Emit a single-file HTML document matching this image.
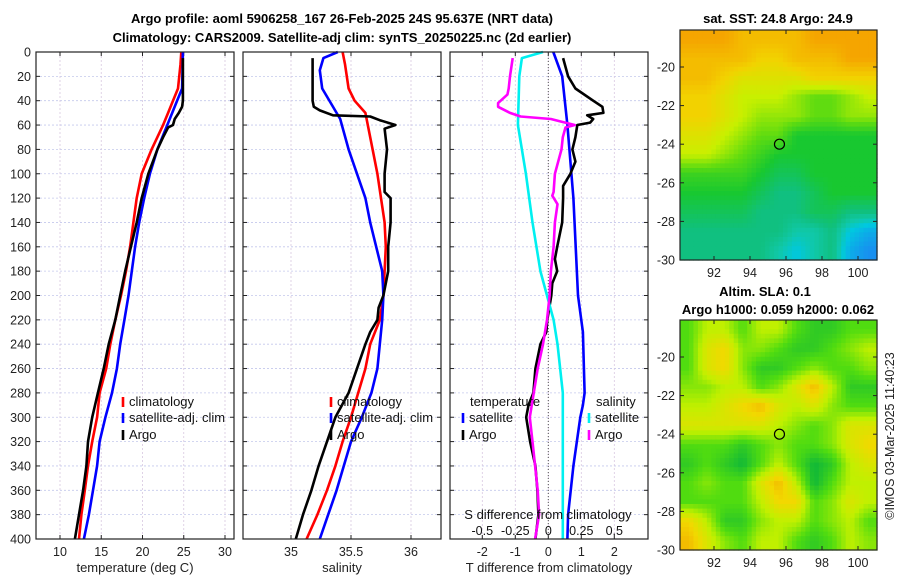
<!DOCTYPE html>
<html><head><meta charset="utf-8"><style>
html,body{margin:0;padding:0;background:#fff;}
svg{display:block;font-family:"Liberation Sans","DejaVu Sans",sans-serif;}
</style></head><body>
<svg id="fig" width="900" height="580" viewBox="0 0 900 580" xmlns="http://www.w3.org/2000/svg">
<g font-weight="bold" font-size="13" text-anchor="middle" fill="#000">
<text x="342" y="23">Argo profile: aoml 5906258_167 26-Feb-2025 24S 95.637E (NRT data)</text>
<text x="342" y="42">Climatology: CARS2009. Satellite-adj clim: synTS_20250225.nc (2d earlier)</text>
</g>
<g id="root"></g>
</svg>
<script>
// ---------- data ----------
const depthTicks = [0,20,40,60,80,100,120,140,160,180,200,220,240,260,280,300,320,340,360,380,400];
const tempTicks = [10,15,20,25,30];
const salTicks = [35,35.5,36];
const tdiffTicks = [-2,-1,0,1,2];
const sdiffTicks = [-0.5,-0.25,0,0.25,0.5];
const sdiffTickLabels = ["-0.5","-0.25","0","0.25","0.5"];

const tClimDepth = [0,10,30,40,50,60,80,100,120,140,160,180,200,220,240,260,280,300,320,340,360,380,400];
const tClimVal   = [24.7,24.6,24.3,23.7,23.1,22.5,21.1,19.9,19.3,18.9,18.5,18.0,17.4,16.7,16.1,15.6,14.8,14.5,13.9,13.4,13.0,12.6,12.3];
const tSatDepth = [0,30,40,60,80,100,120,140,160,180,200,220,240,260,280,300,320,340,360,380,400];
const tSatVal   = [24.9,24.8,24.2,23.0,21.8,20.9,20.2,19.6,19.1,18.7,18.3,17.8,17.3,16.9,16.3,15.5,14.8,14.5,14.0,13.5,12.9];
const tArgoDepth = [5,40,45,50,55,60,62,70,80,100,120,140,160,180,200,220,240,260,280,300,320,340,360,380,400];
const tArgoVal   = [24.9,24.9,24.8,24.4,23.9,23.7,23.1,22.5,21.8,20.7,19.9,19.3,18.6,17.9,17.3,16.7,15.9,15.3,14.6,13.9,13.4,13.2,12.8,12.3,11.8];

const sClimDepth = [0,10,30,40,50,80,100,140,160,200,220,240,260,280,300,320,340,360,380,400];
const sClimVal   = [35.43,35.45,35.48,35.53,35.62,35.68,35.72,35.78,35.79,35.77,35.74,35.66,35.62,35.56,35.5,35.43,35.37,35.3,35.22,35.13];
const sSatDepth = [0,5,15,30,55,80,100,120,140,160,180,200,220,240,260,280,300,320,340,360,380,400];
const sSatVal   = [35.39,35.27,35.24,35.26,35.41,35.48,35.55,35.62,35.66,35.71,35.76,35.77,35.76,35.74,35.72,35.67,35.59,35.5,35.44,35.38,35.31,35.24];
const sArgoDepth = [5,40,45,48,52,53,56,60,63,80,100,115,120,140,160,180,200,210,220,230,240,260,280,300,320,340,360,380,400];
const sArgoVal   = [35.18,35.18,35.19,35.24,35.35,35.66,35.74,35.87,35.78,35.8,35.78,35.78,35.83,35.83,35.81,35.81,35.77,35.73,35.72,35.66,35.62,35.55,35.48,35.37,35.3,35.23,35.17,35.1,35.04];

const dTSatDepth = [0,20,60,120,200,230,280,290,300,340,380,400];
const dTSatVal   = [0.15,0.42,0.58,0.76,0.9,1.05,1.1,1.05,0.97,0.76,0.6,0.58];
const dTArgoDepth = [5,20,30,40,45,50,52,55,58,60,70,80,90,100,110,120,140,160,170,180,190,200,220,230,240,260,280,290,300,320,340,360,380,400];
const dTArgoVal   = [0.45,0.6,0.82,1.36,1.64,1.67,1.18,1.36,1.27,0.88,0.82,0.73,0.82,0.67,0.45,0.45,0.42,0.27,0.2,0.27,0.12,0.09,-0.03,-0.06,-0.24,-0.39,-0.45,-0.6,-0.67,-0.55,-0.39,-0.33,-0.3,-0.39];
const dSSatDepth = [0,5,20,60,80,100,140,180,200,220,240,280,400];
const dSSatVal   = [-0.04,-0.2,-0.22,-0.23,-0.2,-0.17,-0.12,-0.06,-0.01,0.04,0.07,0.11,0.11];
const dSArgoDepth = [5,20,30,35,42,45,50,53,55,57,60,62,70,80,100,115,118,125,140,160,180,200,220,240,260,300,320,340,360,380,400];
const dSArgoVal   = [-0.27,-0.29,-0.3,-0.31,-0.38,-0.38,-0.29,-0.21,0.02,0.09,0.2,0.13,0.11,0.1,0.05,0.04,0.03,0.07,0.05,0.04,0.02,0.01,-0.01,-0.04,-0.08,-0.14,-0.12,-0.1,-0.08,-0.07,-0.1];

const sstGrid = [
[0,0,0,0.5,0.5,0.5,0.5,0,0,0,0],
[0.5,0.5,0.5,0.5,1,1,0.5,0.5,0.5,0,0],
[0.5,0.5,1,1.5,1.5,1.5,1.5,1,1,1,1],
[1,1,1.5,2,2,2,2.5,3,3,2.5,2],
[1,1,1.5,2,2.5,2.5,2.5,3,3,2.5,2.5],
[1.5,1.5,2,2.5,3,3,4,4,4,4,4],
[2,2,2.5,3,3.5,4,4,4,4,4,4],
[3.5,3.5,3.5,3.5,4,4.5,4.5,4,4,4,4],
[4,4,4,4,4.5,5,5,4.5,4,4,4],
[4.5,4.5,4.5,4.5,5,5,5,4.5,4.5,5,5],
[5,5,5,5,5,5,5.5,5.5,5,6,6.5],
[5,5,5,5,5,5.5,6,5.5,5,6.5,7]];
const slaGrid = [
[1,2,2,1,2,2,1,0.5,0.5,1,1],
[1,2.5,3,1.5,1.5,1,0.5,0.5,1,1.5,2],
[1,2.5,3,1.5,0.5,0.5,1,1.5,1,1,1.5],
[1.5,1.5,2,2,1,1.5,2.5,3.5,2,0.5,0.5],
[2,2,2.5,3,3.5,2.5,2,2.5,1.5,1,1],
[2.5,2.5,2.5,2.5,2.5,2,1.5,1,1.5,2.5,2.5],
[1,1,1,0.5,1,1.5,1,1,1.5,2.5,3],
[0.5,1,0.5,0,1,2,1,0,0.5,2,2.5],
[1,1.5,1,1,2.5,3.5,2,0,1,2,2],
[1,1,1,1,2,3,3,1,1.5,2.5,2],
[3,2,0.5,0.5,1.5,2,2,1,1.5,2,1],
[3.5,2.5,1.5,1,2,2,1,0.5,1,2,1.5]];
const lonTicks = [92,94,96,98,100];
const latTicks = [-20,-22,-24,-26,-28,-30];
const argoLon = 95.637, argoLat = -24;

// ---------- helpers ----------
const NS = "http://www.w3.org/2000/svg";
const root = document.getElementById('root');
function mk(tag, attrs, parent, text) {
  const e = document.createElementNS(NS, tag);
  for (const k in attrs) e.setAttribute(k, attrs[k]);
  if (text !== undefined) e.textContent = text;
  (parent || root).appendChild(e);
  return e;
}
const PT = 52, PB = 539;
const yD = d => PT + (d / 400) * (PB - PT);
function lin(d0, d1, r0, r1) { return v => r0 + (v - d0) / (d1 - d0) * (r1 - r0); }

function panel(name, x0, x1, xTicks, xScale, xLabels, xTitle, leftLabels) {
  const g = mk('g', {});
  
  
  depthTicks.forEach(d => mk('line', {x1:x0,x2:x1,y1:yD(d),y2:yD(d),stroke:'#c4c8ec','stroke-width':0.8,'stroke-dasharray':'2,2'}, g));
  xTicks.forEach(v => mk('line', {x1:xScale(v),x2:xScale(v),y1:PT,y2:PB,stroke:'#d8c8e0','stroke-width':0.8,'stroke-dasharray':'2,2'}, g));
  depthTicks.forEach(d => {
    mk('line', {x1:x0,x2:x0+4,y1:yD(d),y2:yD(d),stroke:'#222'}, g);
    mk('line', {x1:x1,x2:x1-4,y1:yD(d),y2:yD(d),stroke:'#222'}, g);
    if (leftLabels) mk('text', {x:x0-5,y:yD(d)+4.5,'text-anchor':'end','font-size':12.5,fill:'#222'}, g, String(d));
  });
  xTicks.forEach((v,i) => {
    mk('line', {x1:xScale(v),x2:xScale(v),y1:PB,y2:PB-4,stroke:'#222'}, g);
    mk('line', {x1:xScale(v),x2:xScale(v),y1:PT,y2:PT+4,stroke:'#222'}, g);
    mk('text', {x:xScale(v),y:PB+17,'text-anchor':'middle','font-size':12.5,fill:'#222'}, g, xLabels[i]);
  });
  mk('text', {x:(x0+x1)/2,y:PB+33,'text-anchor':'middle','font-size':13,fill:'#222'}, g, xTitle);
  return g;
}
function series(name, g, depths, vals, xs, color) {
  const pts = depths.map((d,i) => xs(vals[i]).toFixed(1) + ',' + yD(d).toFixed(1)).join(' ');
  const p = mk('polyline', {points:pts,fill:'none',stroke:color,'stroke-width':2.6,'stroke-linejoin':'round'}, g);
  
  
}
function frame(g, x0, x1) { mk('rect', {x:x0,y:PT,width:x1-x0,height:PB-PT,fill:'none',stroke:'#222','stroke-width':1.2}, g); }
function legend(g, x, y, color, text, name) {
  const e = mk('g', {}, g);
  
  
  if (color) mk('line', {x1:x,x2:x,y1:y-9,y2:y+1,stroke:color,'stroke-width':2.6}, e);
  mk('text', {x:x+6,y:y,'font-size':13,fill:'#111'}, e, text);
}

// ---------- panel 1: temperature ----------
const xT = lin(10, 30, 60, 225);
const g1 = panel('temperature-panel', 36, 234, tempTicks, xT, tempTicks.map(String), 'temperature (deg C)', true);
series('temp-climatology-line', g1, tClimDepth, tClimVal, xT, '#ff0000');
series('temp-satellite-line', g1, tSatDepth, tSatVal, xT, '#0000ff');
series('temp-argo-line', g1, tArgoDepth, tArgoVal, xT, '#000000');
frame(g1, 36, 234);
legend(g1, 123, 406, '#ff0000', 'climatology', 'legend-climatology');
legend(g1, 123, 422, '#0000ff', 'satellite-adj. clim', 'legend-satellite');
legend(g1, 123, 439, '#000000', 'Argo', 'legend-argo');

// ---------- panel 2: salinity ----------
const xS = lin(35, 36, 291, 411);
const g2 = panel('salinity-panel', 243, 441, salTicks, xS, ['35','35.5','36'], 'salinity', false);
series('sal-climatology-line', g2, sClimDepth, sClimVal, xS, '#ff0000');
series('sal-satellite-line', g2, sSatDepth, sSatVal, xS, '#0000ff');
series('sal-argo-line', g2, sArgoDepth, sArgoVal, xS, '#000000');
frame(g2, 243, 441);
legend(g2, 331, 406, '#ff0000', 'climatology', 'legend-sal-climatology');
legend(g2, 331, 422, '#0000ff', 'satellite-adj. clim', 'legend-sal-satellite');
legend(g2, 331, 439, '#000000', 'Argo', 'legend-sal-argo');

// ---------- panel 3: differences ----------
const xDT = lin(0, 2, 548.3, 614.3);
const xDS = lin(0, 0.5, 548.3, 614.3);
const g3 = panel('difference-panel', 450, 648, tdiffTicks, xDT, tdiffTicks.map(String), 'T difference from climatology', false);
mk('line', {x1:xDT(0),x2:xDT(0),y1:PT,y2:PB,stroke:'#555','stroke-width':1,'stroke-dasharray':'1,2'}, g3);
series('tdiff-satellite-line', g3, dTSatDepth, dTSatVal, xDT, '#0000ff');
series('tdiff-argo-line', g3, dTArgoDepth, dTArgoVal, xDT, '#000000');
series('sdiff-satellite-line', g3, dSSatDepth, dSSatVal, xDS, '#00f0f0');
series('sdiff-argo-line', g3, dSArgoDepth, dSArgoVal, xDS, '#ff00ff');
frame(g3, 450, 648);
mk('text', {x:470,y:406,'font-size':13,fill:'#111'}, g3, 'temperature');
legend(g3, 463, 422, '#0000ff', 'satellite', 'legend-tdiff-satellite');
legend(g3, 463, 439, '#000000', 'Argo', 'legend-tdiff-argo');
mk('text', {x:596,y:406,'font-size':13,fill:'#111'}, g3, 'salinity');
legend(g3, 589, 422, '#00f0f0', 'satellite', 'legend-sdiff-satellite');
legend(g3, 589, 439, '#ff00ff', 'Argo', 'legend-sdiff-argo');
const sAx = mk('g', {}, g3);


mk('text', {x:548,y:519,'text-anchor':'middle','font-size':13,fill:'#111'}, sAx, 'S difference from climatology');
sdiffTicks.forEach((v,i) => mk('text', {x:xDS(v),y:535,'text-anchor':'middle','font-size':12.5,fill:'#111'}, sAx, sdiffTickLabels[i]));

// ---------- maps ----------
function lerpColor(stops, v) {
  for (let i = 0; i < stops.length - 1; i++) {
    const a = stops[i], b = stops[i+1];
    if (v <= b[0] || i === stops.length - 2) {
      const t = Math.max(0, Math.min(1, (v - a[0]) / (b[0] - a[0])));
      const c = [0,1,2].map(k => Math.round(a[1][k] + (b[1][k] - a[1][k]) * t));
      return 'rgb(' + c.join(',') + ')';
    }
  }
}
const sstStops = [[0,[245,165,0]],[1,[242,210,0]],[2,[200,240,0]],[3,[96,220,16]],[4,[24,200,48]],[5,[16,192,128]],[5.5,[16,200,168]],[6,[0,200,224]],[7,[24,144,240]]];
const slaStops = [[0,[16,184,56]],[1,[80,220,16]],[2,[192,240,0]],[3,[242,216,0]],[4,[243,160,0]]];
function sample(grid, fx, fy) {
  const R = grid.length, C = grid[0].length;
  const x = Math.max(0, Math.min(C - 1, fx)), y = Math.max(0, Math.min(R - 1, fy));
  const x0 = Math.floor(x), y0 = Math.floor(y), x1 = Math.min(C - 1, x0 + 1), y1 = Math.min(R - 1, y0 + 1);
  const tx = x - x0, ty = y - y0;
  return grid[y0][x0]*(1-tx)*(1-ty) + grid[y0][x1]*tx*(1-ty) + grid[y1][x0]*(1-tx)*ty + grid[y1][x1]*tx*ty;
}
function mapPanel(name, grid, stops, top, bottom, latTop) {
  const L = 680, Rr = 877;
  const g = mk('g', {});
  
  
  const xLon = lin(92, 100, 714, 858);
  const yLat = lin(-20, -30, top + latTop, bottom);
  const nx = 44, ny = 50, cw = (Rr - L) / nx, ch = (bottom - top) / ny;
  const R = grid.length, C = grid[0].length;
  for (let j = 0; j < ny; j++) for (let i = 0; i < nx; i++) {
    const v = sample(grid, (i + 0.5) / nx * C - 0.5, (j + 0.5) / ny * R - 0.5);
    mk('rect', {x:(L + i*cw).toFixed(2), y:(top + j*ch).toFixed(2), width:(cw+0.6).toFixed(2), height:(ch+0.6).toFixed(2), fill:lerpColor(stops, v)}, g);
  }
  mk('rect', {x:L,y:top,width:Rr-L,height:bottom-top,fill:'none',stroke:'#222','stroke-width':1.2}, g);
  lonTicks.forEach(v => {
    mk('line', {x1:xLon(v),x2:xLon(v),y1:bottom,y2:bottom-4,stroke:'#222'}, g);
    mk('line', {x1:xLon(v),x2:xLon(v),y1:top,y2:top+4,stroke:'#222'}, g);
    mk('text', {x:xLon(v),y:bottom+17,'text-anchor':'middle','font-size':12.5,fill:'#222'}, g, String(v));
  });
  latTicks.forEach(v => {
    mk('line', {x1:L,x2:L+4,y1:yLat(v),y2:yLat(v),stroke:'#222'}, g);
    mk('line', {x1:Rr,x2:Rr-4,y1:yLat(v),y2:yLat(v),stroke:'#222'}, g);
    mk('text', {x:L-5,y:yLat(v)+4.5,'text-anchor':'end','font-size':12.5,fill:'#222'}, g, String(v));
  });
  const c = mk('circle', {cx:xLon(argoLon),cy:yLat(argoLat),r:5,fill:'none',stroke:'#000','stroke-width':1.2}, g);
  
  
  return g;
}
const m1 = mapPanel('sst-map', sstGrid, sstStops, 30, 260, 37);
mk('text', {x:778,y:23,'text-anchor':'middle','font-size':13,'font-weight':'bold',fill:'#000'}, m1, 'sat. SST: 24.8 Argo: 24.9');
const m2 = mapPanel('sla-map', slaGrid, slaStops, 320, 550, 37);
mk('text', {x:765,y:296,'text-anchor':'middle','font-size':13,'font-weight':'bold',fill:'#000'}, m2, 'Altim. SLA: 0.1');
mk('text', {x:778,y:314,'text-anchor':'middle','font-size':13,'font-weight':'bold',fill:'#000'}, m2, 'Argo h1000: 0.059 h2000: 0.062');
const cr = mk('text', {x:0,y:0,'text-anchor':'middle','font-size':12.5,fill:'#222',transform:'translate(894,436) rotate(-90)'});
cr.textContent = '\u00A9IMOS 03-Mar-2025 11:40:23';


</script>
</body></html>
